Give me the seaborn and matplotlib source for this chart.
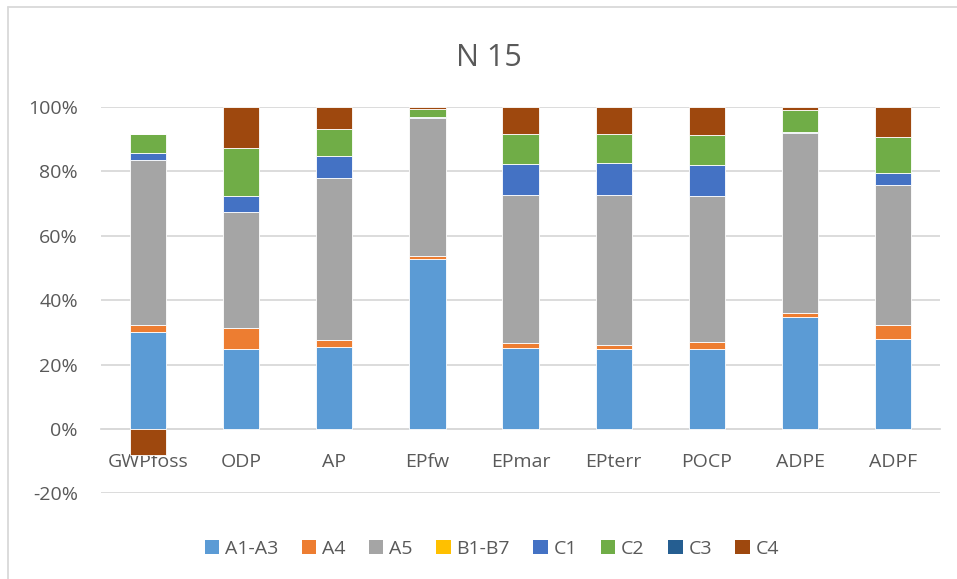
"""
Stacked percentage bar chart "N 15": share of each life-cycle stage
per impact category (Excel-style recreation).
"""

import numpy as np
import matplotlib.pyplot as plt
import seaborn as sns
from matplotlib.patches import Patch
from matplotlib.lines import Line2D
from matplotlib.ticker import PercentFormatter

# Data (percent of total per impact category)
categories = ["GWPfoss", "ODP", "AP", "EPfw", "EPmar", "EPterr", "POCP", "ADPE", "ADPF"]
stages = ["A1-A3", "A4", "A5", "B1-B7", "C1", "C2", "C3", "C4"]

a1_a3 = [30.0, 24.8, 25.4, 52.7, 25.1, 24.8, 24.8, 34.7, 27.9]
a4 = [2.2, 6.4, 2.1, 1.0, 1.6, 1.4, 2.2, 1.4, 4.5]
a5 = [51.3, 36.2, 50.5, 42.8, 45.9, 46.4, 45.3, 55.8, 43.2]
b1_b7 = [0.0, 0.0, 0.0, 0.0, 0.0, 0.0, 0.0, 0.0, 0.0]
c1 = [2.2, 5.0, 6.6, 0.2, 9.7, 9.8, 9.5, 0.2, 3.8]
c2 = [5.8, 14.8, 8.5, 2.6, 9.2, 9.1, 9.5, 6.8, 11.1]
c3 = [0.0, 0.0, 0.0, 0.0, 0.0, 0.0, 0.0, 0.0, 0.0]
c4 = [-8.0, 12.8, 6.9, 0.7, 8.5, 8.5, 8.7, 1.1, 9.5]

colors = ["#5B9BD5", "#ED7D31", "#A5A5A5", "#FFC000",
          "#4472C4", "#70AD47", "#255E91", "#9E480E"]

TEXT = "#595959"
GRID = "#D9D9D9"


def main():
    sns.set_theme(style="white")
    plt.rcParams["font.family"] = ["Open Sans", "DejaVu Sans"]
    plt.rcParams["axes.unicode_minus"] = False

    fig = plt.figure(figsize=(9.57, 5.79), dpi=100)
    ax = fig.add_axes([0.106, 0.1477, 0.876, 0.668])

    series = [a1_a3, a4, a5, b1_b7, c1, c2, c3, c4]
    pos_base = np.zeros(len(categories))
    neg_base = np.zeros(len(categories))
    for vals, col in zip(series, colors):
        vals = np.array(vals)
        bottom = np.where(vals >= 0, pos_base, neg_base)
        sns.barplot(x=categories, y=vals, bottom=bottom, color=col, width=0.39,
                    saturation=1, edgecolor="white", linewidth=0.6, ax=ax, zorder=3)
        pos_base += np.clip(vals, 0, None)
        neg_base += np.clip(vals, None, 0)

    ax.set_xlim(-0.5, len(categories) - 0.5)
    ax.set_ylim(-20, 100)
    ax.set_yticks(np.arange(-20, 101, 20))
    ax.yaxis.set_major_formatter(PercentFormatter(decimals=0))
    ax.grid(axis="y", color=GRID, linewidth=1.3, zorder=0)
    for side in ["left", "right", "top"]:
        ax.spines[side].set_visible(False)
    ax.spines["bottom"].set_position(("data", 0))
    ax.spines["bottom"].set_color(GRID)
    ax.spines["bottom"].set_linewidth(1.3)
    ax.tick_params(axis="both", length=0, labelsize=14, colors=TEXT)
    ax.tick_params(axis="y", pad=17)
    ax.tick_params(axis="x", pad=17)
    ax.set_xlabel("")
    ax.set_ylabel("")

    fig.text(0.511, 0.9, "N 15", ha="center", va="center", fontsize=22, color=TEXT)

    handles = [Patch(facecolor=c, edgecolor="none") for c in colors]
    fig.legend(handles, stages, loc="center", bbox_to_anchor=(0.514, 0.052), ncol=8,
               frameon=False, fontsize=14, labelcolor=TEXT, handlelength=0.75,
               handleheight=0.75, handletextpad=0.3, columnspacing=1.2)

    # chart area border (left and top edges visible)
    fig.add_artist(Line2D([8 / 957, 8 / 957], [0, 1 - 7 / 579], color=GRID, lw=1.3))
    fig.add_artist(Line2D([8 / 957, 1], [1 - 7 / 579, 1 - 7 / 579], color=GRID, lw=1.3))

    fig.savefig("out.png", dpi=100)


if __name__ == "__main__":
    main()
